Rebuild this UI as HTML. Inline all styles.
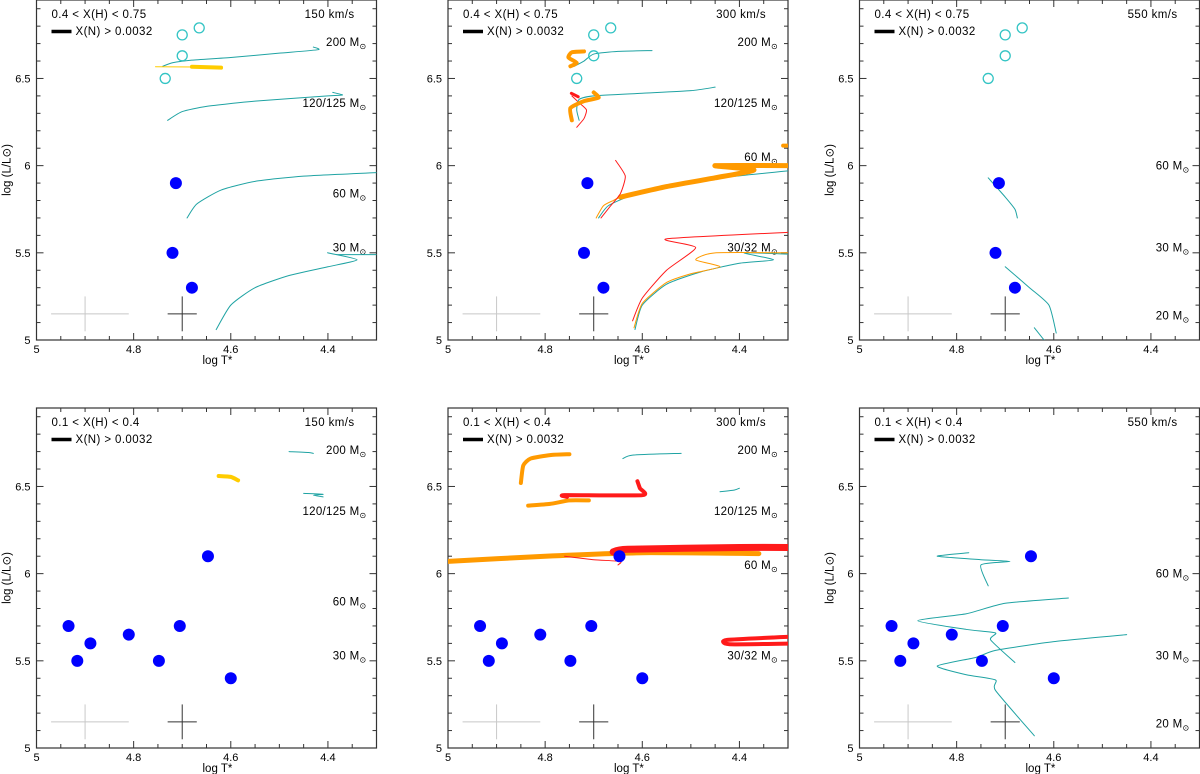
<!DOCTYPE html>
<html><head><meta charset="utf-8"><style>
html,body{margin:0;padding:0;background:#fff;}
svg{display:block;}
text{font-family:"Liberation Sans",sans-serif;fill:#000;}
</style></head><body>
<svg id="chart" width="1200" height="774" viewBox="0 0 1200 774" xmlns="http://www.w3.org/2000/svg"></svg>
<script>
// ---- axis domains ----
const xDomain = [5.0, 4.3];
const yDomain = [5.0, 6.95];
const xTickLabels = ["5", "4.8", "4.6", "4.4"];
const xTickValues = [5.0, 4.8, 4.6, 4.4];
const yTickLabels = ["5", "5.5", "6", "6.5"];
const yTickValues = [5.0, 5.5, 6.0, 6.5];

// ---- panel headers ----
const hydrogenRanges = ["0.4 < X(H) < 0.75","0.4 < X(H) < 0.75","0.4 < X(H) < 0.75","0.1 < X(H) < 0.4","0.1 < X(H) < 0.4","0.1 < X(H) < 0.4"];
const velocities = ["150 km/s","300 km/s","550 km/s","150 km/s","300 km/s","550 km/s"];

// ---- observed stars ----
const openStarsTop = [[4.735,6.5],[4.70,6.63],[4.70,6.75],[4.665,6.79]];
const filledStarsTop = [[4.713,5.9],[4.72,5.5],[4.68,5.3]];
const filledStarsBottom = [[4.934,5.7],[4.916,5.5],[4.889,5.6],[4.81,5.65],[4.748,5.5],[4.705,5.7],[4.647,6.1],[4.6,5.4]];

// ---- mass labels [text, logL] per panel ----
const massLabels = [
 [["200",6.71],["120/125",6.36],["60",5.84],["30",5.53]],
 [["200",6.71],["120/125",6.36],["60",6.05],["30/32",5.53]],
 [["60",6.0],["30",5.53],["20",5.14]],
 [["200",6.71],["120/125",6.36],["60",5.84],["30",5.53]],
 [["200",6.71],["120/125",6.36],["60",6.05],["30/32",5.53]],
 [["60",6.0],["30",5.53],["20",5.14]]
];

// ---- evolutionary tracks: [color, width, points] ----
const tracksP1 = [
 ["teal",1,[[4.74,6.57],[4.72,6.59],[4.68,6.605],[4.6,6.62],[4.5,6.645],[4.42,6.665],[4.43,6.68]]],
 ["yellow",1,[[4.755,6.567],[4.63,6.565]]],
 ["yellow",4,[[4.68,6.567],[4.62,6.562]]],
 ["teal",1,[[4.73,6.26],[4.7,6.31],[4.65,6.34],[4.55,6.37],[4.4,6.40],[4.37,6.405],[4.39,6.42]]],
 ["teal",1,[[4.69,5.70],[4.67,5.78],[4.62,5.86],[4.55,5.91],[4.45,5.94],[4.3,5.96]]],
 ["teal",1,[[4.63,5.06],[4.60,5.20],[4.55,5.30],[4.48,5.37],[4.4,5.42],[4.34,5.46],[4.4,5.50],[4.38,5.49],[4.3,5.49]]]
];
const tracksP2 = [
 ["teal",1,[[4.74,6.57],[4.72,6.6],[4.70,6.64],[4.65,6.655],[4.58,6.66]]],
 ["orange",4,[[4.72,6.655],[4.745,6.65],[4.752,6.62],[4.735,6.59],[4.748,6.57]]],
 ["red",1,[[4.735,6.22],[4.72,6.27],[4.715,6.32],[4.73,6.36],[4.745,6.40]]],
 ["teal",1,[[4.73,6.26],[4.735,6.32],[4.73,6.38],[4.7,6.40],[4.6,6.415],[4.5,6.43],[4.45,6.45]]],
 ["orange",4,[[4.745,6.26],[4.748,6.33],[4.72,6.37],[4.69,6.39],[4.70,6.42]]],
 ["red",3,[[4.746,6.415],[4.732,6.395]]],
 ["teal",1,[[4.69,5.70],[4.67,5.77],[4.62,5.83],[4.5,5.91],[4.3,5.97],[4.28,5.97]]],
 ["orange",1,[[4.695,5.70],[4.68,5.77],[4.66,5.80],[4.645,5.82]]],
 ["orange",5,[[4.645,5.82],[4.55,5.88],[4.45,5.93],[4.37,5.975],[4.45,6.0],[4.28,6.0]]],
 ["orange",4,[[4.31,6.115],[4.28,6.115]]],
 ["red",1,[[4.685,5.70],[4.665,5.77],[4.645,5.84],[4.635,5.94],[4.655,6.03]]],
 ["teal",1,[[4.615,5.06],[4.6,5.20],[4.55,5.32],[4.48,5.39],[4.4,5.44],[4.33,5.46],[4.39,5.50],[4.28,5.49]]],
 ["orange",1,[[4.617,5.07],[4.6,5.21],[4.55,5.33],[4.5,5.38],[4.44,5.42],[4.49,5.46],[4.45,5.50],[4.28,5.50]]],
 ["red",1,[[4.62,5.11],[4.6,5.24],[4.55,5.40],[4.49,5.53],[4.55,5.58],[4.28,5.62]]]
];
const tracksP3 = [
 ["teal",1,[[4.735,5.93],[4.70,5.82],[4.68,5.75],[4.675,5.70]]],
 ["teal",1,[[4.70,5.42],[4.65,5.30],[4.61,5.20],[4.595,5.04]]],
 ["teal",1,[[4.64,5.07],[4.62,5.0]]]
];
const tracksP4 = [
 ["yellow",4,[[4.625,6.56],[4.6,6.555],[4.585,6.535]]],
 ["teal",1,[[4.48,6.70],[4.44,6.695],[4.43,6.69]]],
 ["teal",1,[[4.45,6.46],[4.41,6.455],[4.43,6.45],[4.41,6.44]]]
];
const tracksP5 = [
 ["orange",4,[[4.85,6.52],[4.845,6.62],[4.83,6.66],[4.79,6.68],[4.75,6.685]]],
 ["orange",4,[[4.835,6.39],[4.79,6.40],[4.75,6.42],[4.71,6.42]]],
 ["red",4,[[4.755,6.44],[4.76,6.45],[4.6,6.45],[4.605,6.49],[4.61,6.53]]],
 ["teal",1,[[4.64,6.66],[4.62,6.68],[4.52,6.69]]],
 ["teal",1,[[4.44,6.47],[4.41,6.48],[4.4,6.49]]],
 ["orange",5,[[5.0,6.07],[4.8,6.10],[4.6,6.12],[4.36,6.115]]],
 ["red",7,[[4.66,6.125],[4.63,6.14],[4.4,6.15],[4.28,6.15]]],
 ["red",1,[[4.76,6.10],[4.7,6.08],[4.645,6.07],[4.65,6.05]]],
 ["red",4,[[4.28,5.64],[4.425,5.62],[4.42,5.595],[4.28,5.60]]]
];
const tracksP6 = [
 ["teal",1,[[4.775,6.12],[4.84,6.10],[4.75,6.08],[4.69,6.07],[4.75,6.05],[4.735,5.93]]],
 ["teal",1,[[4.57,5.86],[4.7,5.83],[4.78,5.77],[4.88,5.73],[4.78,5.68],[4.72,5.66],[4.73,5.62],[4.68,5.49]]],
 ["teal",1,[[4.45,5.65],[4.6,5.61],[4.72,5.56],[4.76,5.52],[4.84,5.47],[4.78,5.42],[4.72,5.39],[4.72,5.33],[4.64,5.07]]]
];

// ---- error crosses [T0,T1,L0,L1,centerT,centerL] ----
const crossGray = [4.97,4.81,5.05,5.25,4.9,5.15];
const crossDark = [4.73,4.67,5.05,5.25,4.7,5.15];

const COLORS = {teal:"#1fa3a3", orange:"#ff9a00", red:"#ff1a1a", yellow:"#ffcc00"};
const panelBoxes = [[36.5,0],[448,0],[859.5,0],[36.5,408],[448,408],[859.5,408]];
const PW = 340, PH = 340;
const panelTracks = [tracksP1,tracksP2,tracksP3,tracksP4,tracksP5,tracksP6];

const NS = "http://www.w3.org/2000/svg";
const svg = document.getElementById("chart");
function mk(tag, attrs, parent){
  const e = document.createElementNS(NS, tag);
  for (const k in attrs) e.setAttribute(k, attrs[k]);
  (parent||svg).appendChild(e);
  return e;
}
function smoothPath(pts){
  if (pts.length < 3) return "M" + pts.map(p=>p[0]+","+p[1]).join(" L");
  let d = "M" + pts[0][0] + "," + pts[0][1];
  for (let i=0;i<pts.length-1;i++){
    const p0 = pts[Math.max(0,i-1)], p1 = pts[i], p2 = pts[i+1], p3 = pts[Math.min(pts.length-1,i+2)];
    const t = 0.3;
    const c1 = [p1[0]+(p2[0]-p0[0])*t/1.5*0.5*2/2, p1[1]+(p2[1]-p0[1])*t/1.5*0.5*2/2];
    const c2 = [p2[0]-(p3[0]-p1[0])*t/1.5*0.5*2/2, p2[1]-(p3[1]-p1[1])*t/1.5*0.5*2/2];
    d += ` C${c1[0]},${c1[1]} ${c2[0]},${c2[1]} ${p2[0]},${p2[1]}`;
  }
  return d;
}

panelBoxes.forEach((box, i) => {
  const L = box[0], T = box[1];
  const sx = v => L + (xDomain[0]-v)/(xDomain[0]-xDomain[1])*PW;
  const sy = v => T + PH - (v-yDomain[0])/(yDomain[1]-yDomain[0])*PH;
  const g = mk("g", {});
  
  
  const clipId = "clip" + i;
  const cp = mk("clipPath", {id: clipId}, g);
  mk("rect", {x:L, y:T, width:PW, height:PH}, cp);

  const ticks = mk("g", {stroke:"#333", "stroke-width":1}, g);
  
  
  for (let k=0; k<=14; k++){
    const v = 5.0 - k*0.05, x = sx(v);
    if (x > L+PW+0.5) break;
    const len = (k%4===0) ? 7 : 4;
    mk("line",{x1:x,y1:T+PH,x2:x,y2:T+PH-len},ticks);
    mk("line",{x1:x,y1:T,x2:x,y2:T+len},ticks);
  }
  for (let k=0; k<=19; k++){
    const v = 5.0 + k*0.1, y = sy(v);
    if (y < T-0.5) break;
    const len = (k%5===0) ? 7 : 4;
    mk("line",{x1:L,y1:y,x2:L+len,y2:y},ticks);
    mk("line",{x1:L+PW,y1:y,x2:L+PW-len,y2:y},ticks);
  }
  const frame = mk("rect",{x:L,y:T,width:PW,height:PH,fill:"none",stroke:"#333","stroke-width":1.2},g);
  
  

  xTickValues.forEach((v,j)=>{
    const t = mk("text",{x:sx(v),y:T+PH+13,"font-size":11,"text-anchor":"middle"},g);
    
    
    t.textContent = xTickLabels[j];
  });
  yTickValues.forEach((v,j)=>{
    const t = mk("text",{x:L-6,y:sy(v)+4,"font-size":11,"text-anchor":"end"},g);
    
    
    t.textContent = yTickLabels[j];
  });
  const xt = mk("text",{x:L+166,y:T+PH+24,"font-size":11.5,"font-family":"Liberation Serif, serif"},g);
  
  
  xt.textContent = "log T*";
  if (i%3 !== 1){
    const yt = mk("text",{x:0,y:0,"font-size":11.5,"font-family":"Liberation Serif, serif","text-anchor":"middle",transform:`translate(${L-26},${T+170}) rotate(-90)`},g);
    
    
    yt.textContent = "log (L/L\u2299)";
  }

  const hr = mk("text",{x:L+15,y:T+18,"font-size":11.5,"letter-spacing":0.4},g);
  
  
  hr.textContent = hydrogenRanges[i];
  const ll = mk("line",{x1:L+15,y1:T+31.5,x2:L+35,y2:T+31.5,stroke:"#000","stroke-width":3.5},g);
  
  
  const lt = mk("text",{x:L+39,y:T+35,"font-size":11.5,"letter-spacing":0.4},g);
  
  
  lt.textContent = "X(N) > 0.0032";
  const vt = mk("text",{x:L+PW-22,y:T+18,"font-size":11.5,"letter-spacing":0.4,"text-anchor":"end"},g);
  
  
  vt.textContent = velocities[i];

  massLabels[i].forEach(m=>{
    const t = mk("text",{x:L+PW-10,y:sy(m[1])+4,"font-size":11.5,"letter-spacing":0.3,"text-anchor":"end"},g);
    
    
    t.textContent = m[0] + " M";
    const s = mk("tspan",{"font-size":8,dy:3},t);
    s.textContent = "\u2299";
  });

  [[crossGray,"#c8c8c8"],[crossDark,"#333"]].forEach(c=>{
    const a = c[0];
    const cg = mk("g",{stroke:c[1],"stroke-width":1},g);
    
    
    mk("line",{x1:sx(a[0]),y1:sy(a[5]),x2:sx(a[1]),y2:sy(a[5])},cg);
    mk("line",{x1:sx(a[4]),y1:sy(a[2]),x2:sx(a[4]),y2:sy(a[3])},cg);
  });

  const tg = mk("g",{"clip-path":`url(#${clipId})`,fill:"none","stroke-linejoin":"round","stroke-linecap":"round"},g);
  panelTracks[i].forEach(tr=>{
    const pts = tr[2].map(q=>[sx(q[0]),sy(q[1])]);
    const p = mk("path",{d: smoothPath(pts), stroke: COLORS[tr[0]], "stroke-width": tr[1]},tg);
    
    
  });

  if (i < 3){
    openStarsTop.forEach(s=>{
      const c = mk("circle",{cx:sx(s[0]),cy:sy(s[1]),r:5,fill:"none",stroke:"#33c4c4","stroke-width":1.3},g);
      
      
    });
  }
  (i < 3 ? filledStarsTop : filledStarsBottom).forEach(s=>{
    const c = mk("circle",{cx:sx(s[0]),cy:sy(s[1]),r:6,fill:"#0000ff"},g);
    
    
  });
});
</script>
</body></html>
